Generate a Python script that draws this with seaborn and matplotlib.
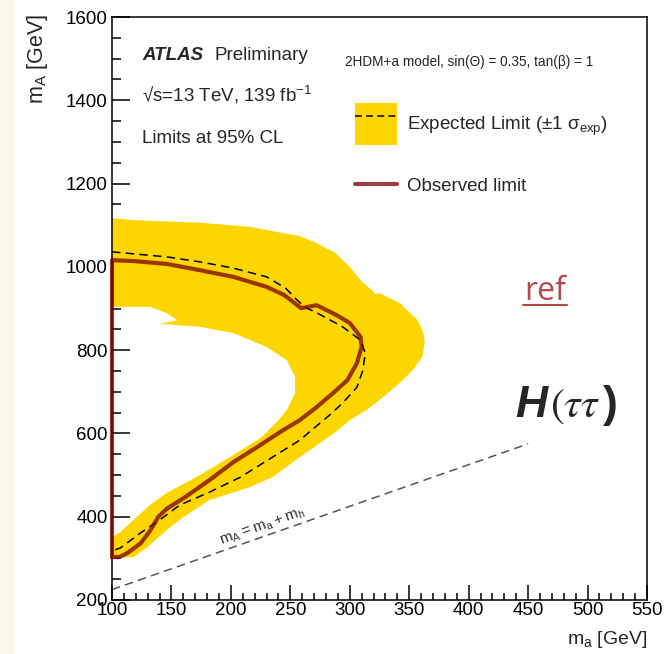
import matplotlib
matplotlib.use("Agg")
import matplotlib.pyplot as plt
import seaborn as sns
from matplotlib.patches import Patch, Rectangle
from matplotlib.lines import Line2D
from matplotlib.legend_handler import HandlerTuple
from matplotlib.ticker import MultipleLocator

# ---------------- data (GeV) ----------------
band_outer_ma = [100, 118, 174, 216, 244, 258, 272, 288, 300, 309, 320, 321, 325, 342, 357, 362,
                 363, 361, 353, 342, 328, 314, 300, 288, 258, 235, 216, 182, 160, 146, 129, 118, 100]
band_outer_mA = [1117, 1112, 1106, 1096, 1081, 1074, 1057, 1033, 1000, 968, 940, 935, 937, 913, 872, 841,
                 817, 784, 752, 721, 687, 656, 632, 603, 543, 495, 471, 440, 399, 368, 325, 303, 301]
band_inner_ma = [100, 132, 146, 155, 140, 155, 174, 202, 230, 247, 254, 254, 247, 240, 226, 202,
                 174, 146, 132, 118, 107, 100]
band_inner_mA = [904, 904, 889, 872, 863, 860, 856, 841, 808, 776, 736, 697, 656, 632, 591, 548,
                 500, 457, 428, 392, 363, 351]

exp_ma = [100, 146, 174, 202, 230, 246, 255, 263, 272, 294, 309, 313, 311, 306, 294, 283, 275,
          258, 235, 208, 182, 157, 140, 124, 107, 100]
exp_mA = [1036, 1024, 1012, 997, 976, 949, 922, 902, 890, 856, 824, 793, 752, 711, 673, 644, 625,
          584, 543, 495, 459, 428, 392, 361, 325, 318]

obs_ma = [100, 100, 118, 146, 174, 202, 216, 230, 245, 259, 265, 272, 289, 300, 309, 310, 306, 298,
          286, 272, 258, 244, 222, 202, 182, 162, 146, 139, 132, 124, 113, 106, 100]
obs_mA = [303, 1016, 1014, 1007, 992, 976, 964, 952, 932, 901, 904, 908, 884, 865, 832, 808, 769, 728,
          697, 663, 632, 608, 567, 531, 488, 448, 419, 400, 366, 336, 313, 303, 303]

kin_ma = [100, 450]
kin_mA = [225, 575]   # m_A = m_a + m_h

x_ticks = [100, 150, 200, 250, 300, 350, 400, 450, 500, 550]
y_ticks = [200, 400, 600, 800, 1000, 1200, 1400, 1600]

# ---------------- style ----------------
W, H = 668, 654
sns.set_style("ticks")
FONT = ["Liberation Sans Narrow", "Liberation Sans", "DejaVu Sans"]
plt.rcParams["font.family"] = FONT
plt.rcParams["axes.linewidth"] = 1.1

FS = 13.5            # main text size (pt)
YELLOW = "#fdd600"
OBS = "#7a0000"
OBS_ALPHA = 0.75

fig = plt.figure(figsize=(W / 100, H / 100), dpi=100)
fig.patch.set_facecolor("white")
fig.add_artist(Rectangle((0, 0), 15 / W, 1, transform=fig.transFigure,
                         facecolor="#fdf8ec", edgecolor="none", zorder=0))

def fx(px):
    return px / W

def fy(py):
    return 1 - py / H

ax = fig.add_axes([fx(112), fy(600), (647 - 112) / W, (600 - 17) / H])
ax.set_facecolor("white")

# band polygon: outer boundary then inner boundary reversed
poly_x = band_outer_ma + band_inner_ma[::-1]
poly_y = band_outer_mA + band_inner_mA[::-1]
ax.fill(poly_x, poly_y, color=YELLOW, lw=0, zorder=1)

sns.lineplot(x=kin_ma, y=kin_mA, sort=False, estimator=None, ax=ax, color="#555555",
             lw=1.1, linestyle=(0, (5.5, 3.5)), zorder=2)
sns.lineplot(x=exp_ma, y=exp_mA, sort=False, estimator=None, ax=ax, color="black",
             lw=1.1, linestyle=(0, (5.5, 3.5)), zorder=3)
sns.lineplot(x=obs_ma, y=obs_mA, sort=False, estimator=None, ax=ax, color=OBS, alpha=OBS_ALPHA,
             lw=3.0, zorder=5, clip_on=False, solid_joinstyle="round")

ax.set_xlim(100, 550)
ax.set_ylim(200, 1600)
ax.set_xticks(x_ticks)
ax.set_xticklabels([str(v) for v in x_ticks])
ax.set_yticks(y_ticks)
ax.set_yticklabels([str(v) for v in y_ticks])
ax.xaxis.set_minor_locator(MultipleLocator(10))
ax.yaxis.set_minor_locator(MultipleLocator(50))
ax.tick_params(axis="both", which="both", direction="in", top=False, right=False,
               labelsize=FS, width=1.1, colors="black")
ax.tick_params(axis="x", which="major", length=10.5, pad=1.5)
ax.tick_params(axis="x", which="minor", length=5.0)
ax.tick_params(axis="y", which="major", length=13, pad=3)
ax.tick_params(axis="y", which="minor", length=6.5)
for s in ax.spines.values():
    s.set_color("black")
    s.set_linewidth(1.1)
ax.set_xlabel("")
ax.set_ylabel("")

# axis titles
fig.text(fx(37), fy(14), r"m$_{\mathregular{A}}$ [GeV]", rotation=90, ha="center", va="top",
         fontsize=15.5)
fig.text(fx(647), fy(644), r"m$_{\mathregular{a}}$ [GeV]", ha="right", va="baseline", fontsize=14)

# kinematic label
ax.text(227, 375, r"$\mathregular{m_A = m_a + m_h}$", rotation=19.5, rotation_mode="anchor",
        ha="center", va="center", fontsize=11, color="#333333", zorder=4)

# ATLAS labels
fig.text(fx(142), fy(60), "ATLAS", fontsize=FS, fontweight="bold", fontstyle="italic")
fig.text(fx(215), fy(60), "Preliminary", fontsize=FS)
fig.text(fx(142), fy(102), "√s=13 TeV, 139 fb$^{\\mathregular{-1}}$", fontsize=FS)
fig.text(fx(142), fy(143), "Limits at 95% CL", fontsize=FS)
fig.text(fx(345), fy(66), "2HDM+a model, sin(\u0398) = 0.35, tan(\u03b2) = 1", fontsize=9.8)

# legend (two blocks so each handle sits as in the reference)
fs = FS * 100 / 72
box = 42 / fs
h_exp = (Patch(facecolor=YELLOW, edgecolor="none"),
         Line2D([], [], color="black", lw=1.1, linestyle=(0, (4.5, 2.8))))
leg1 = ax.legend([h_exp], ["Expected Limit (\u00b11 \u03c3$_{\\mathregular{exp}}$)"],
                 handler_map={tuple: HandlerTuple(ndivide=1)},
                 loc="upper left", bbox_to_anchor=(fx(355), fy(103)),
                 bbox_transform=fig.transFigure,
                 frameon=False, borderpad=0, borderaxespad=0, fontsize=FS,
                 handlelength=box, handleheight=(box - 0.245) / 0.65, handletextpad=10 / fs)
ax.add_artist(leg1)
h_obs = Line2D([], [], color=OBS, alpha=OBS_ALPHA, lw=3.0)
ax.legend([h_obs], ["Observed limit"], loc="center left",
          bbox_to_anchor=(fx(355), fy(186)), bbox_transform=fig.transFigure,
          frameon=False, borderpad=0, borderaxespad=0, fontsize=FS,
          handlelength=box, handletextpad=10 / fs)

# "ref" annotation
fig.text(fx(545), fy(300), "ref", ha="center", va="baseline", fontsize=23,
         family=["Open Sans", "DejaVu Sans"], color="#b5484b")
fig.add_artist(Line2D([fx(523), fx(567)], [fy(305), fy(305)], transform=fig.transFigure,
                      color="#b5484b", lw=1.5))

# H(tautau)
fig.text(fx(515), fy(417), "H", fontsize=32, fontweight="bold", fontstyle="italic",
         family=["Liberation Sans", "DejaVu Sans"])
fig.text(fx(550), fy(417), r"$(\tau\tau$", fontsize=30, math_fontfamily="stix")
fig.text(fx(603), fy(417), ")", fontsize=32, fontweight="bold",
         family=["Liberation Sans", "DejaVu Sans"])

fig.savefig("out.png", dpi=100)
